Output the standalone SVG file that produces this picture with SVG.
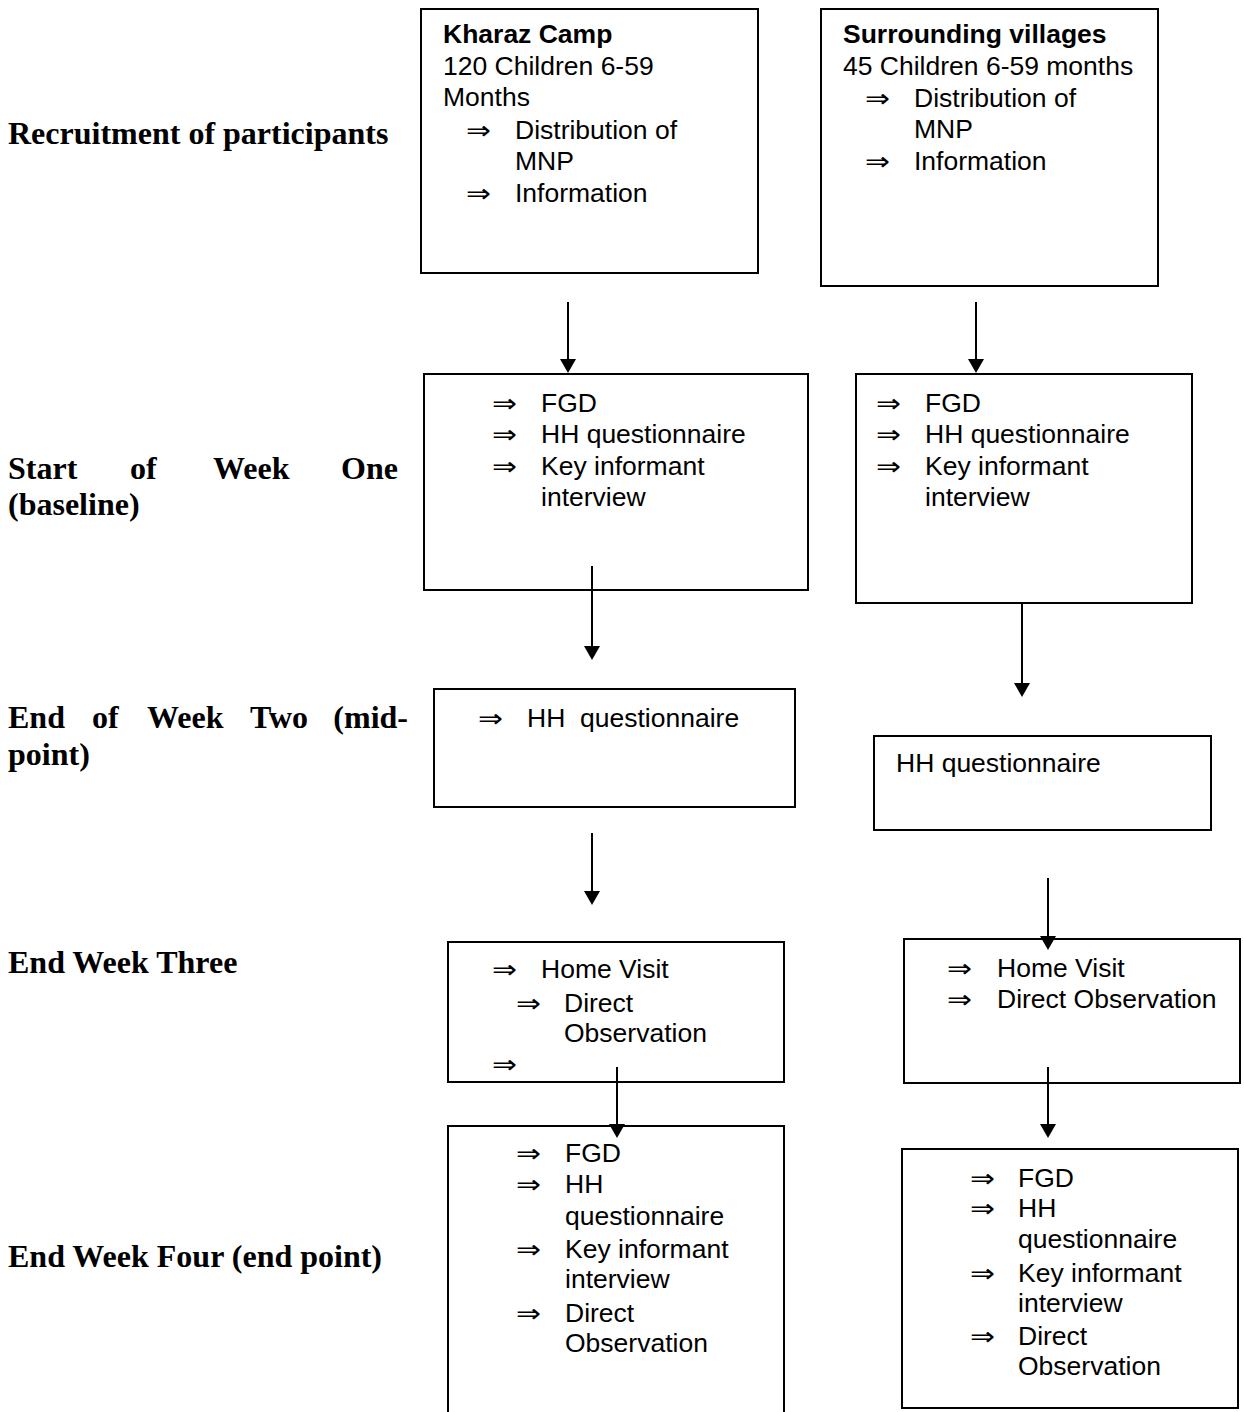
<svg xmlns="http://www.w3.org/2000/svg" width="1244" height="1412" viewBox="0 0 1244 1412">
<style>
.box{fill:#fff;stroke:#000;stroke-width:2}
.t{font-family:"Liberation Sans",Arial,sans-serif;font-size:26.5px;fill:#000}
.b{font-weight:bold}
.ar{font-family:"DejaVu Sans",sans-serif;font-size:25px;font-weight:200;fill:#000}
.lab{font-family:"Liberation Serif","Times New Roman",serif;font-size:32px;font-weight:bold;fill:#000}
.con{stroke:#000;stroke-width:2;fill:none;marker-end:url(#ah)}
</style>
<defs>
<marker id="ah" markerUnits="userSpaceOnUse" markerWidth="16" markerHeight="16" refX="4" refY="8" orient="auto">
<path d="M0,0 L14,8 L0,16 z" fill="#000"/>
</marker>
</defs>
<rect width="1244" height="1412" fill="#fff"/>

<g id="labels">
<text class="lab" x="8" y="144">Recruitment of participants</text>
<text class="lab" x="8" y="479">Start</text>
<text class="lab" x="130" y="479">of</text>
<text class="lab" x="213" y="479">Week</text>
<text class="lab" x="398" y="479" text-anchor="end">One</text>
<text class="lab" x="8" y="515">(baseline)</text>
<text class="lab" x="8" y="728">End</text>
<text class="lab" x="92" y="728">of</text>
<text class="lab" x="147" y="728">Week</text>
<text class="lab" x="250" y="728">Two</text>
<text class="lab" x="408" y="728" text-anchor="end">(mid-</text>
<text class="lab" x="8" y="765">point)</text>
<text class="lab" x="8" y="973">End Week Three</text>
<text class="lab" x="8" y="1267">End Week Four (end point)</text>
</g>

<g id="kharaz">
<rect class="box" x="421" y="9" width="337" height="264"/>
<text class="t b" x="443" y="43">Kharaz Camp</text>
<text class="t" x="443" y="75">120 Children 6-59</text>
<text class="t" x="443" y="106">Months</text>
<text class="ar" x="466" y="139" textLength="25" lengthAdjust="spacingAndGlyphs">⇒</text>
<text class="t" x="515" y="139">Distribution of</text>
<text class="t" x="515" y="170">MNP</text>
<text class="ar" x="466" y="202" textLength="25" lengthAdjust="spacingAndGlyphs">⇒</text>
<text class="t" x="515" y="202">Information</text>
</g>

<g id="villages">
<rect class="box" x="821" y="9" width="337" height="277"/>
<text class="t b" x="843" y="43">Surrounding villages</text>
<text class="t" x="843" y="75">45 Children 6-59 months</text>
<text class="ar" x="865" y="107" textLength="25" lengthAdjust="spacingAndGlyphs">⇒</text>
<text class="t" x="914" y="107">Distribution of</text>
<text class="t" x="914" y="138">MNP</text>
<text class="ar" x="865" y="170" textLength="25" lengthAdjust="spacingAndGlyphs">⇒</text>
<text class="t" x="914" y="170">Information</text>
</g>

<g id="k-week1">
<rect class="box" x="424" y="374" width="384" height="216"/>
<text class="ar" x="492" y="412" textLength="25" lengthAdjust="spacingAndGlyphs">⇒</text>
<text class="t" x="541" y="412">FGD</text>
<text class="ar" x="492" y="443" textLength="25" lengthAdjust="spacingAndGlyphs">⇒</text>
<text class="t" x="541" y="443">HH questionnaire</text>
<text class="ar" x="492" y="475" textLength="25" lengthAdjust="spacingAndGlyphs">⇒</text>
<text class="t" x="541" y="475">Key informant</text>
<text class="t" x="541" y="506">interview</text>
</g>

<g id="v-week1">
<rect class="box" x="856" y="374" width="336" height="229"/>
<text class="ar" x="876" y="412" textLength="25" lengthAdjust="spacingAndGlyphs">⇒</text>
<text class="t" x="925" y="412">FGD</text>
<text class="ar" x="876" y="443" textLength="25" lengthAdjust="spacingAndGlyphs">⇒</text>
<text class="t" x="925" y="443">HH questionnaire</text>
<text class="ar" x="876" y="475" textLength="25" lengthAdjust="spacingAndGlyphs">⇒</text>
<text class="t" x="925" y="475">Key informant</text>
<text class="t" x="925" y="506">interview</text>
</g>

<g id="k-week2">
<rect class="box" x="434" y="689" width="361" height="118"/>
<text class="ar" x="478" y="727" textLength="25" lengthAdjust="spacingAndGlyphs">⇒</text>
<text class="t" x="527" y="727" xml:space="preserve">HH  questionnaire</text>
</g>

<g id="v-week2">
<rect class="box" x="874" y="736" width="337" height="94"/>
<text class="t" x="896" y="772">HH questionnaire</text>
</g>

<g id="k-week3">
<rect class="box" x="448" y="942" width="336" height="140"/>
<text class="ar" x="492" y="978" textLength="25" lengthAdjust="spacingAndGlyphs">⇒</text>
<text class="t" x="541" y="978">Home Visit</text>
<text class="ar" x="516" y="1012" textLength="25" lengthAdjust="spacingAndGlyphs">⇒</text>
<text class="t" x="564" y="1012">Direct</text>
<text class="t" x="564" y="1042">Observation</text>
<text class="ar" x="492" y="1073" textLength="25" lengthAdjust="spacingAndGlyphs">⇒</text>
</g>

<g id="v-week3">
<rect class="box" x="904" y="939" width="336" height="144"/>
<text class="ar" x="947" y="977" textLength="25" lengthAdjust="spacingAndGlyphs">⇒</text>
<text class="t" x="997" y="977">Home Visit</text>
<text class="ar" x="947" y="1008" textLength="25" lengthAdjust="spacingAndGlyphs">⇒</text>
<text class="t" x="997" y="1008">Direct Observation</text>
</g>

<g id="k-week4">
<path class="box" d="M448,1420 V1126 H784 V1420"/>
<text class="ar" x="516" y="1162" textLength="25" lengthAdjust="spacingAndGlyphs">⇒</text>
<text class="t" x="565" y="1162">FGD</text>
<text class="ar" x="516" y="1193" textLength="25" lengthAdjust="spacingAndGlyphs">⇒</text>
<text class="t" x="565" y="1193">HH</text>
<text class="t" x="565" y="1225">questionnaire</text>
<text class="ar" x="516" y="1258" textLength="25" lengthAdjust="spacingAndGlyphs">⇒</text>
<text class="t" x="565" y="1258">Key informant</text>
<text class="t" x="565" y="1288">interview</text>
<text class="ar" x="516" y="1322" textLength="25" lengthAdjust="spacingAndGlyphs">⇒</text>
<text class="t" x="565" y="1322">Direct</text>
<text class="t" x="565" y="1352">Observation</text>
</g>

<g id="v-week4">
<rect class="box" x="902" y="1149" width="336" height="259"/>
<text class="ar" x="970" y="1187" textLength="25" lengthAdjust="spacingAndGlyphs">⇒</text>
<text class="t" x="1018" y="1187">FGD</text>
<text class="ar" x="970" y="1217" textLength="25" lengthAdjust="spacingAndGlyphs">⇒</text>
<text class="t" x="1018" y="1217">HH</text>
<text class="t" x="1018" y="1248">questionnaire</text>
<text class="ar" x="970" y="1282" textLength="25" lengthAdjust="spacingAndGlyphs">⇒</text>
<text class="t" x="1018" y="1282">Key informant</text>
<text class="t" x="1018" y="1312">interview</text>
<text class="ar" x="970" y="1345" textLength="25" lengthAdjust="spacingAndGlyphs">⇒</text>
<text class="t" x="1018" y="1345">Direct</text>
<text class="t" x="1018" y="1375">Observation</text>
</g>

<g id="connectors">
<line class="con" x1="568" y1="302" x2="568" y2="363"/>
<line class="con" x1="976" y1="302" x2="976" y2="363"/>
<line class="con" x1="592" y1="566" x2="592" y2="650"/>
<line class="con" x1="1022" y1="603" x2="1022" y2="687"/>
<line class="con" x1="592" y1="833" x2="592" y2="895"/>
<line class="con" x1="1048" y1="878" x2="1048" y2="940"/>
<line class="con" x1="617" y1="1067" x2="617" y2="1128"/>
<line class="con" x1="1048" y1="1067" x2="1048" y2="1128"/>
</g>
</svg>
